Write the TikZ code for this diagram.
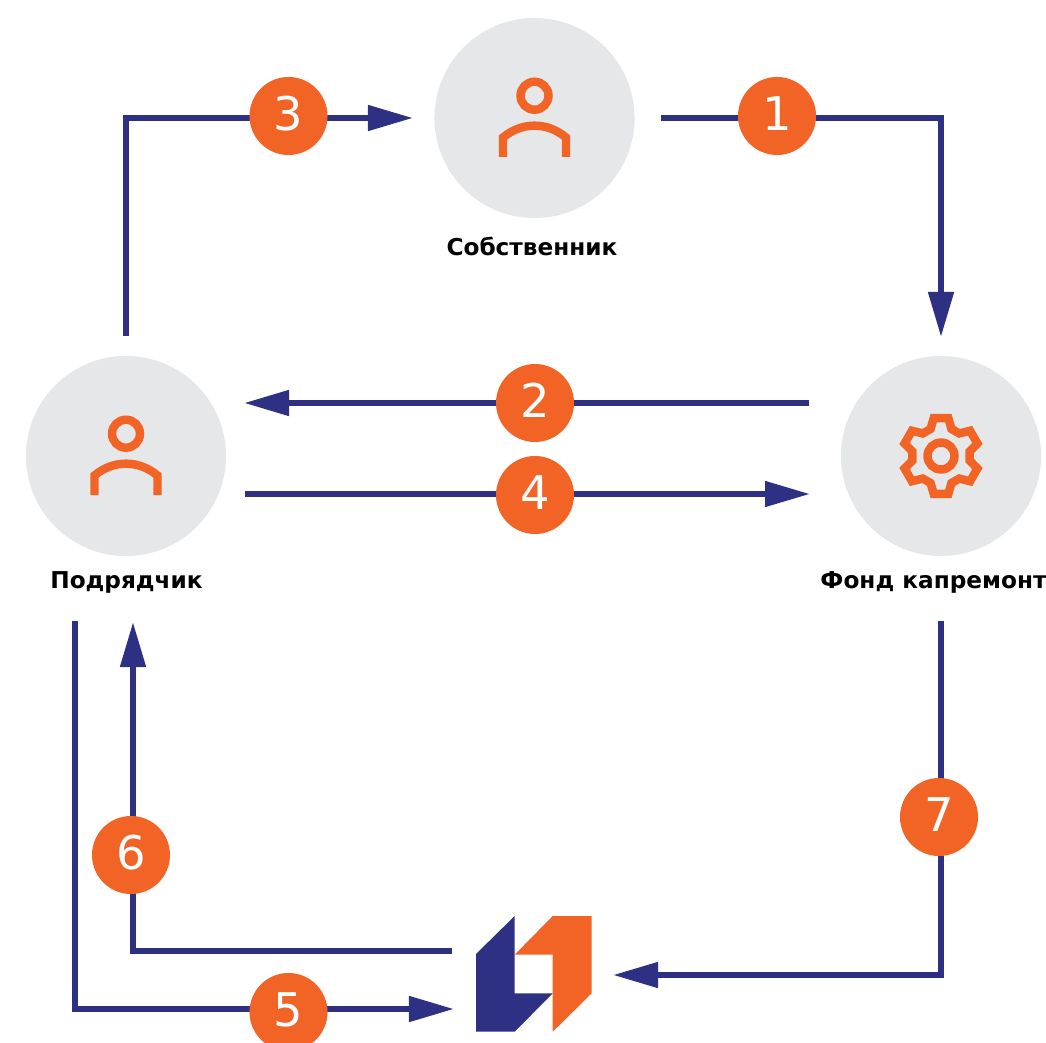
\documentclass[tikz,border=0pt]{standalone}
\usepackage{fontspec}
\setmainfont{DejaVu Sans}
\usetikzlibrary{arrows.meta}
\definecolor{navy}{HTML}{2E3084}
\definecolor{rust}{HTML}{F26426}
\definecolor{pale}{HTML}{E6E7E8}
\tikzset{
    actor/.style={circle, fill=pale, minimum size=2cm, inner sep=0},
    num/.style={circle, fill=rust, text=white, minimum size=0.78cm, inner sep=0, text depth=0.05cm, font=\fontsize{13.2}{13.2}\selectfont},
    title/.style={font=\fontsize{6.6}{6.6}\selectfont\bfseries, text=black},
    flow/.style={draw=navy, line width=1.7pt, -{Triangle[length=12.8pt, width=7pt]}},
    icon/.style={draw=rust, line width=2.4pt, fill=none},
    person/.pic={
        \draw [icon] (0,-22.3) circle (14);
        \draw [icon] (-31.5,39) -- (-31.5,19.5) to[bend left=40] (31.5,19.5) -- (31.5,39);
    },
    gear/.pic={
        \draw [icon, miter limit=4] (111:29) \foreach \a in {90,30,-30,-90,-150,-210} {
            -- ({\a+21}:29) -- ({\a+11}:38.5) -- ({\a-11}:38.5) -- ({\a-21}:29)} -- cycle;
        \draw [icon] (0,0) circle (13.5);
    }
}
\begin{document}
\begin{tikzpicture}[x=0.01cm, y=-0.01cm]
    \useasboundingbox (0,0) rectangle (1046,1043);
    \node [actor] (S) at (534.5,118) {};
    \node [actor] (P) at (126,456) {};
    \node [actor] (F) at (941,456) {};
    \pic at (534.5,118) {person};
    \pic at (126,456) {person};
    \pic at (941,456) {gear};
    \node [title] (Stitle) at (532,246) {Собственник};
    \node [title] (Ptitle) at (126.5,582) {Подрядчик};
    \node [title] (Ftitle) at (933.5,582) {Фонд капремонт};
    \fill [navy] (476,954) -- (514.7,916) -- (514.7,993.3) -- (552.7,993.3) -- (514.7,1031.7) -- (476,1031.7) -- cycle;
    \fill [rust] (514.7,954.7) -- (552.7,916) -- (591.7,916) -- (591.7,993.3) -- (552.7,1031.7) -- (552.7,954.7) -- cycle;
    \coordinate (a3) at (126,336);
    \coordinate (b3) at (413,118);
    \coordinate (a1) at (661,118);
    \coordinate (b1) at (941,337);
    \coordinate (a2) at (809,403);
    \coordinate (b2) at (244,403);
    \coordinate (a4) at (245,494);
    \coordinate (b4) at (810,494);
    \coordinate (a5) at (75,621);
    \coordinate (b5) at (454,1009);
    \coordinate (a6) at (452,951);
    \coordinate (b6) at (133,622);
    \coordinate (a7) at (941,621);
    \coordinate (b7) at (613,975);
    \draw [flow] (a3) |- (b3);
    \draw [flow] (a1) -| (b1);
    \draw [flow] (a2) -- (b2);
    \draw [flow] (a4) -- (b4);
    \draw [flow] (a5) |- (b5);
    \draw [flow] (a6) -| (b6);
    \draw [flow] (a7) |- (b7);
    \node [num] (n1) at (777,116) {1};
    \node [num] (n2) at (535,403) {2};
    \node [num] (n3) at (288.5,116) {3};
    \node [num] (n4) at (535,495) {4};
    \node [num] (n5) at (288.5,1012) {5};
    \node [num] (n6) at (131,855) {6};
    \node [num] (n7) at (939,817) {7};
\end{tikzpicture}
\end{document}
